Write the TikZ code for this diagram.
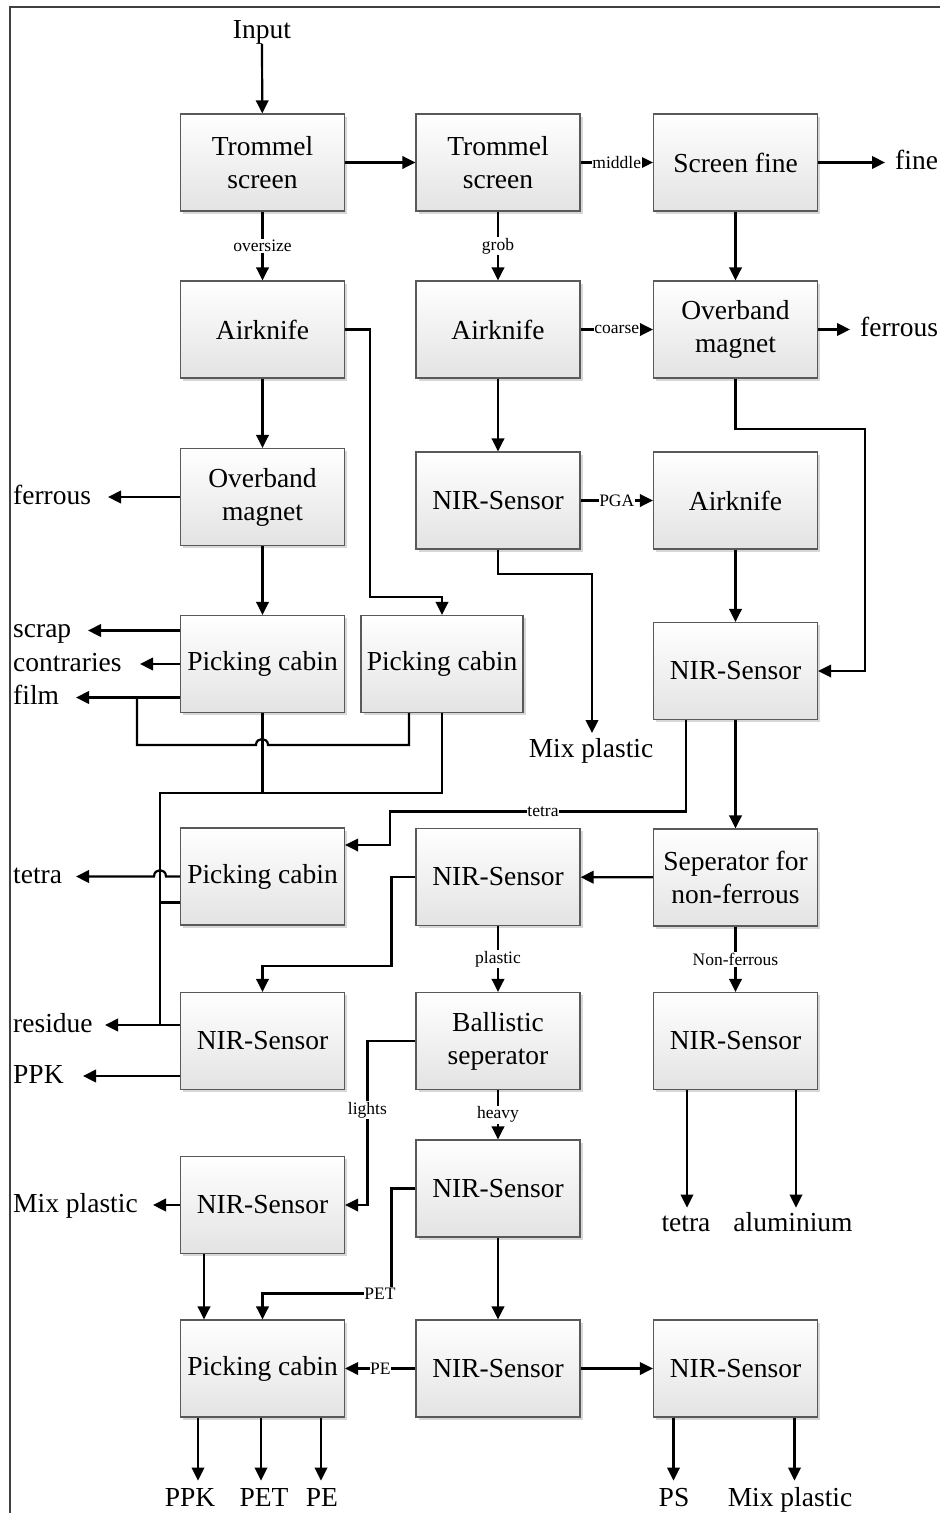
\documentclass[tikz,border=0pt]{standalone}
\usepackage{fontspec}
\setmainfont{Liberation Serif}
\usetikzlibrary{arrows.meta,shadows}
\begin{document}
\begin{tikzpicture}[x=1pt,y=-1pt,
 box/.style={draw=black!65, line width=1.2pt, top color=white, bottom color=black!11,
   minimum width=164pt, minimum height=97pt, inner sep=0pt, align=center,
   font=\fontsize{27.5}{33}\selectfont,
   drop shadow={shadow xshift=2.5pt, shadow yshift=-2.5pt, fill=black!35, opacity=0.45}},
 conn/.style={line width=2.2pt, -{Triangle[length=13pt,width=12.5pt]}},
 wire/.style={line width=2.2pt},
 lab/.style={fill=white, inner xsep=0.5pt, inner ysep=1pt, font=\fontsize{17.5}{20}\selectfont},
 outl/.style={font=\fontsize{27.5}{33}\selectfont, inner sep=0pt},
]
\useasboundingbox (0,0) rectangle (940,1513);
\draw[line width=1.5pt, black!75] (10,1513) -- (10,7) -- (940,7);

% boxes
\node[box] (T1) at (262.5,162.5) {Trommel\\screen};
\node[box] (T2) at (498,162.5) {Trommel\\screen};
\node[box] (SF) at (735.5,162.5) {Screen fine};
\node[box] (A1) at (262.5,329.5) {Airknife};
\node[box] (A2) at (498,329.5) {Airknife};
\node[box] (OM3) at (735.5,329.5) {Overband\\magnet};
\node[box] (OM1) at (262.5,497) {Overband\\magnet};
\node[box] (N2a) at (498,500.5) {NIR-Sensor};
\node[box] (A3) at (735.5,500.5) {Airknife};
\node[box] (PC1) at (262.5,664) {Picking cabin};
\node[box, minimum width=162pt] (PC2) at (442,664) {Picking cabin};
\node[box] (N3a) at (735.5,671) {NIR-Sensor};
\node[box] (PCt) at (262.5,876.5) {Picking cabin};
\node[box] (N2b) at (498,877) {NIR-Sensor};
\node[box] (SEP) at (735.5,877.5) {Seperator for\\non-ferrous};
\node[box] (N1c) at (262.5,1041) {NIR-Sensor};
\node[box] (BAL) at (498,1041) {Ballistic\\seperator};
\node[box] (N3c) at (735.5,1041) {NIR-Sensor};
\node[box] (N1d) at (262.5,1205) {NIR-Sensor};
\node[box] (N2d) at (498,1188.5) {NIR-Sensor};
\node[box] (PCe) at (262.5,1368.5) {Picking cabin};
\node[box] (N2e) at (498,1368.5) {NIR-Sensor};
\node[box] (N3e) at (735.5,1368.5) {NIR-Sensor};

% outside labels
\node[outl, anchor=base] (Input) at (262,38) {Input};
\node[outl, anchor=base west] (Lfine) at (895,169.5) {fine};
\node[outl, anchor=base west] (Lferr3) at (860,336.5) {ferrous};
\node[outl, anchor=base west] (Lferr1) at (13,504) {ferrous};
\node[outl, anchor=base west] (Lscrap) at (13,637.5) {scrap};
\node[outl, anchor=base west] (Lcontr) at (13,671) {contraries};
\node[outl, anchor=base west] (Lfilm) at (13,704.5) {film};
\node[outl, anchor=base] (Lmix1) at (591,757) {Mix plastic};
\node[outl, anchor=base west] (Ltetra1) at (13,883.5) {tetra};
\node[outl, anchor=base west] (Lres) at (13,1032) {residue};
\node[outl, anchor=base west] (Lppk1) at (13,1083) {PPK};
\node[outl, anchor=base west] (Lmix2) at (13,1212) {Mix plastic};
\node[outl, anchor=base] (Ltetra2) at (686,1231) {tetra};
\node[outl, anchor=base] (Lalu) at (793,1231) {aluminium};
\node[outl, anchor=base] (Lppk2) at (190,1506) {PPK};
\node[outl, anchor=base] (Lpet) at (264,1506) {PET};
\node[outl, anchor=base] (Lpe) at (322,1506) {PE};
\node[outl, anchor=base] (Lps) at (674,1506) {PS};
\node[outl, anchor=base] (Lmix3) at (790,1506) {Mix plastic};

% arrow end coordinates
\coordinate (cfine) at (885,162.5);
\coordinate (cferr3) at (850,329.5);
\coordinate (cferr1) at (108,497);
\coordinate (cscrap) at (88,630.5);
\coordinate (ccontr) at (140,664);
\coordinate (cfilm) at (76,697.5);
\coordinate (fj) at (137,697.5);
\coordinate (cmix1) at (592,733);
\coordinate (rj) at (160,793);
\coordinate (ctetra1) at (76,876.5);
\coordinate (cres) at (105,1025);
\coordinate (cppk1) at (83,1076);
\coordinate (cmix2) at (153,1205);

% top rows
\draw[conn] (Input.south) -- (T1);
\draw[conn] (T1) -- (T2);
\draw[conn] (T2) -- node[lab]{middle} (SF);
\draw[conn] (SF) -- (cfine);
\draw[conn] (T1) -- node[lab]{oversize} (A1);
\draw[conn] (T2) -- node[lab]{grob} (A2);
\draw[conn] (SF) -- (OM3);
\draw[conn] (A2) -- node[lab]{coarse} (OM3);
\draw[conn] (OM3) -- (cferr3);
\draw[conn] (A1) -- (OM1);
\draw[conn] (A1.east) -| (370,597) -| (PC2);
\draw[conn] (A2) -- (N2a);
\draw[conn] (OM3.south) -- ++(0,50) -| (865,671) -- (N3a.east);
\draw[conn] (N2a) -- node[lab]{PGA} (A3);
\draw[conn] (OM1) -- (cferr1);
\draw[conn] (OM1) -- (PC1);
\draw[conn] (N2a.south) -- ++(0,24) -| (cmix1);
\draw[conn] (A3) -- (N3a);

% picking cabins
\draw[conn] (cscrap -| PC1.west) -- (cscrap);
\draw[conn] (ccontr -| PC1.west) -- (ccontr);
\draw[conn] (cfilm -| PC1.west) -- (cfilm);
\draw[wire] ([xshift=-33pt]PC2.south) |- (268,745) .. controls (268,737) and (256,737) .. (256,745) -| (fj);
\draw[wire] (PC1.south) -- (PC1.south |- rj);
\draw[wire] (PC2.south) |- (rj) -- (rj |- cres);
\draw[wire] ([yshift=-26pt]PCt.west) -- ++(-20,0);

% tetra branch
\draw[conn] ([xshift=-49.5pt]N3a.south) |- (390,811.5) |- ([yshift=31.5pt]PCt.east);
\node[lab] (Ltetlab) at (543,811.5) {tetra};
\draw[conn] (PCt.west) -- (166,876.5) .. controls (166,868) and (154,868) .. (154,876.5) -- (ctetra1);
\draw[conn] (N3a) -- (SEP);
\draw[conn] (SEP) -- (N2b);
\draw[conn] (N2b.west) -- ++(-24,0) |- ([yshift=26pt]N1c.north) -- (N1c.north);
\draw[conn] (N2b) -- node[lab]{plastic} (BAL);
\draw[conn] (SEP) -- node[lab]{Non-ferrous} (N3c);

% lower part
\draw[conn] (cres -| N1c.west) -- (cres);
\draw[conn] (cppk1 -| N1c.west) -- (cppk1);
\draw[conn] (BAL.west) -- ++(-48,0) |- node[lab, pos=0.21]{lights} (N1d.east);
\draw[conn] (BAL) -- node[lab]{heavy} (N2d);
\draw[conn] ([xshift=-48.5pt]N3c.south) -- ++(0,117.5);
\draw[conn] ([xshift=60.5pt]N3c.south) -- ++(0,117.5);
\draw[conn] (cmix2 -| N1d.west) -- (cmix2);
\draw[conn] ([xshift=-58.5pt]N1d.south) -- ([xshift=-58.5pt]PCe.north);
\draw[conn] (N2d.west) -- ++(-24,0) |- ([yshift=26pt]PCe.north) -- (PCe.north);
\node[lab] (Lpetlab) at (380,1294) {PET};
\draw[conn] (N2d) -- (N2e);
\draw[conn] (N2e) -- node[lab]{PE} (PCe);
\draw[conn] (N2e) -- (N3e);
\draw[conn] ([xshift=-64.5pt]PCe.south) -- ++(0,63);
\draw[conn] ([xshift=-1.5pt]PCe.south) -- ++(0,63);
\draw[conn] ([xshift=58.5pt]PCe.south) -- ++(0,63);
\draw[conn] ([xshift=-62pt]N3e.south) -- ++(0,63);
\draw[conn] ([xshift=59pt]N3e.south) -- ++(0,63);
\end{tikzpicture}
\end{document}
